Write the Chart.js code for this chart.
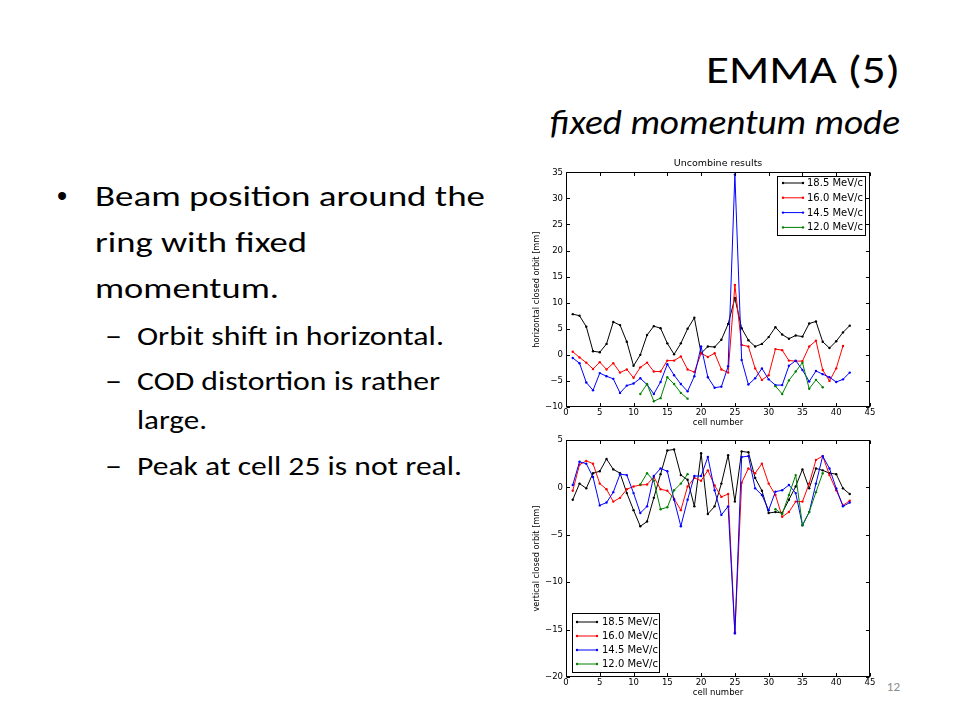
<!DOCTYPE html>
<html>
<head>
<meta charset="utf-8">
<script src="https://cdn.jsdelivr.net/npm/chart.js@4.4.1/dist/chart.umd.min.js"></script>
<style>
  html, body { margin:0; padding:0; background:#fff; }
  #slide { position:relative; width:960px; height:720px; overflow:hidden; background:#fff; }
  svg.txt { position:absolute; left:0; top:0; }
  canvas { position:absolute; }
</style>
</head>
<body>
<div id="slide">
  <svg class="txt" width="960" height="720" xmlns="http://www.w3.org/2000/svg">
    <g font-family="Carlito, Lato, 'Open Sans', sans-serif" font-weight="300" fill="#000">
      <text x="900" y="83" font-size="38" text-anchor="end" textLength="194" lengthAdjust="spacingAndGlyphs">EMMA (5)</text>
      <text x="900" y="134" font-size="34" font-style="italic" text-anchor="end" textLength="350" lengthAdjust="spacingAndGlyphs">fixed momentum mode</text>

      <text x="57" y="206" font-size="29" font-weight="400" font-family="'Liberation Sans', Arial, sans-serif">•</text>
      <text x="95" y="206" font-size="29" textLength="390" lengthAdjust="spacingAndGlyphs">Beam position around the</text>
      <text x="95" y="252" font-size="29" textLength="212" lengthAdjust="spacingAndGlyphs">ring with fixed</text>
      <text x="95" y="298" font-size="29" textLength="184" lengthAdjust="spacingAndGlyphs">momentum.</text>

      <text x="105" y="345" font-size="27" textLength="17" lengthAdjust="spacingAndGlyphs">–</text>
      <text x="137" y="345" font-size="27" textLength="307" lengthAdjust="spacingAndGlyphs">Orbit shift in horizontal.</text>
      <text x="105" y="390" font-size="27" textLength="17" lengthAdjust="spacingAndGlyphs">–</text>
      <text x="137" y="390" font-size="27" textLength="303" lengthAdjust="spacingAndGlyphs">COD distortion is rather</text>
      <text x="137" y="429" font-size="27" textLength="70" lengthAdjust="spacingAndGlyphs">large.</text>
      <text x="105" y="475" font-size="27" textLength="17" lengthAdjust="spacingAndGlyphs">–</text>
      <text x="137" y="475" font-size="27" textLength="325" lengthAdjust="spacingAndGlyphs">Peak at cell 25 is not real.</text>

      <text x="900" y="691" font-size="13" fill="#8a8a8a" text-anchor="end">12</text>
    </g>
  </svg>
  <canvas id="top" width="350" height="272" style="left:530px; top:155px;"></canvas>
  <canvas id="bot" width="350" height="267" style="left:530px; top:430px;"></canvas>
</div>
<script>
// ---------- data ----------
const cells = [1,2,3,4,5,6,7,8,9,10,11,12,13,14,15,16,17,18,19,20,21,22,23,24,25,26,27,28,29,30,31,32,33,34,35,36,37,38,39,40,41,42];
const seriesNames = ['18.5 MeV/c', '16.0 MeV/c', '14.5 MeV/c', '12.0 MeV/c'];

const xTicks = [0,5,10,15,20,25,30,35,40,45];
const hTicks = [-10,-5,0,5,10,15,20,25,30,35];
const vTicks = [-20,-15,-10,-5,0,5];

// horizontal closed orbit [mm]
const h185 = [7.8,7.5,5.4,0.7,0.5,2.1,6.3,5.7,2.5,-2.1, 0.0,3.8,5.5,5.1,2.2,0.1,2.2,5.0,7.1,0.3, 1.6,1.5,2.9,5.9,10.9,5.1,2.8,1.6,2.1,3.4, 5.3,3.9,3.1,3.7,3.5,6.0,6.4,2.5,1.3,2.6,4.3,5.6];
const h160 = [0.6,-0.5,-1.5,-2.7,-1.4,-2.8,-1.6,-3.4,-2.8,-4.4, -2.4,-1.5,-3.2,-3.2,-1.1,-1.1,-0.3,-2.8,-3.3,0.3, -0.4,0.3,-2.8,-3.4,13.4,1.9,1.6,-2.6,-4.8,-3.9, 1.1,0.9,-1.1,-1.2,-1.2,1.6,2.7,-2.9,-5.0,-2.6,1.7,null];
const h145 = [-0.6,-1.6,-5.3,-6.8,-3.5,-4.1,-4.6,-7.3,-5.9,-5.5, -4.5,-5.7,-7.5,-5.2,-1.8,-3.9,-5.6,-7.0,-4.1,1.6, -4.3,-6.3,-6.1,-2.2,34.6,-1.0,-5.7,-4.5,-2.6,-4.7, -5.8,-5.8,-2.1,-1.1,-2.9,-5.1,-3.1,-3.7,-4.3,-5.2,-4.7,-3.4];
const h120 = [null,null,null,null,null,null,null,null,null,null, -7.5,-5.6,-8.9,-8.3,-4.3,-5.6,-7.3,-8.4,null,null, null,null,null,null,null,null,null,null,null,null, -6.0,-7.5,-4.9,-3.2,-1.5,-6.5,-4.8,-6.2,null,null,null,null];

// vertical closed orbit [mm]
const v185 = [-1.3,0.4,-0.1,1.5,1.7,3.0,1.9,1.5,-0.6,-2.4, -4.1,-3.6,-1.1,1.4,3.9,4.0,1.3,0.8,-2.0,3.6, -2.8,-2.0,0.4,3.4,-1.5,3.8,3.7,1.0,-0.35,-2.7, -2.6,-2.7,-1.3,0.1,1.9,-0.1,2.0,1.8,1.5,1.4,-0.1,-0.7];
const v160 = [-0.35,2.4,2.8,2.5,0.4,-0.2,-1.5,-1.1,-0.2,0.1, 0.25,0.3,1.1,-0.2,-0.35,-1.2,-2.4,0.1,1.0,0.7, 1.8,0.2,-1.0,-0.7,-15.3,0.5,2.0,1.5,2.5,0.4, -0.8,-3.1,-2.6,-1.5,-1.5,0.4,2.9,3.3,1.3,-0.3,-1.9,-1.4];
const v145 = [0.25,2.7,2.5,1.1,-1.9,-1.6,-0.5,1.4,1.3,-0.6, -2.7,-2.0,1.2,2.0,1.7,-1.3,-4.1,-1.3,1.2,1.2, 3.2,-0.3,-2.9,-2.0,-15.4,3.2,3.3,-0.1,-0.8,-2.4, -0.45,-0.3,0.25,-0.6,-4.0,-2.6,0.4,3.3,2.0,-0.1,-2.0,-1.6];
const v120 = [null,null,null,null,null,null,null,null,null,null, 0.3,1.5,0.7,-2.3,-2.1,-0.3,0.4,1.4,null,null, null,null,null,null,null,null,null,null,null,null, -2.3,-2.8,-0.8,1.3,-4.0,-2.6,-0.5,1.5,null,null,null,null];

const colors = ['#000000', '#ff0000', '#0000ff', '#008000'];

// ---------- helpers ----------
const FONT = "'DejaVu Sans', Verdana, sans-serif";
const minus = v => String(v).replace('-', '\u2212');

function makeDatasets(arrs) {
  return arrs.map((arr, i) => ({
    label: seriesNames[i],
    data: cells.map((c, k) => ({ x: c, y: arr[k] })),
    borderColor: colors[i],
    backgroundColor: colors[i],
    borderWidth: 1,
    pointRadius: 1.2,
    pointHoverRadius: 1.2,
    pointBorderWidth: 0,
    pointStyle: 'circle',
    tension: 0,
    spanGaps: false,
    order: 3 - i
  }));
}

const framePlugin = {
  id: 'mplFrame',
  afterDatasetsDraw(chart) {
    const { ctx, chartArea: ca, scales } = chart;
    ctx.save();
    ctx.strokeStyle = '#000';
    ctx.lineWidth = 1;
    const L = Math.round(ca.left) + 0.5, R = Math.round(ca.right) - 0.5;
    const T = Math.round(ca.top) + 0.5, B = Math.round(ca.bottom) - 0.5;
    ctx.strokeRect(L, T, R - L, B - T);
    ctx.beginPath();
    scales.x.ticks.forEach(t => {
      const p = Math.round(scales.x.getPixelForValue(t.value)) + 0.5;
      ctx.moveTo(p, B); ctx.lineTo(p, B - 3.5);
      ctx.moveTo(p, T); ctx.lineTo(p, T + 3.5);
    });
    scales.y.ticks.forEach(t => {
      const p = Math.round(scales.y.getPixelForValue(t.value)) + 0.5;
      ctx.moveTo(L, p); ctx.lineTo(L + 3.5, p);
      ctx.moveTo(R, p); ctx.lineTo(R - 3.5, p);
    });
    ctx.stroke();
    ctx.restore();
  }
};

const legendPlugin = {
  id: 'boxLegend',
  afterDatasetsDraw(chart, args, opts) {
    if (!opts || !opts.corner) return;
    const { ctx, chartArea: ca } = chart;
    const w = opts.width, h = opts.height;
    const x0 = Math.round(opts.corner === 'ur' ? ca.right - opts.dx - w : ca.left + opts.dx);
    const y0 = Math.round(opts.corner === 'ur' ? ca.top + opts.dy : ca.bottom - opts.dy - h);
    ctx.save();
    ctx.fillStyle = '#fff';
    ctx.fillRect(x0, y0, w, h);
    ctx.strokeStyle = '#000';
    ctx.lineWidth = 1;
    ctx.strokeRect(x0 + 0.5, y0 + 0.5, w, h);
    ctx.font = `10px ${FONT}`;
    ctx.textBaseline = 'middle';
    chart.data.datasets.forEach((ds, i) => {
      const y = y0 + opts.first + i * opts.step;
      ctx.strokeStyle = ds.borderColor;
      ctx.fillStyle = ds.borderColor;
      ctx.beginPath();
      ctx.moveTo(x0 + opts.lx0, y); ctx.lineTo(x0 + opts.lx1, y);
      ctx.stroke();
      [opts.lx0, opts.lx1].forEach(px => { ctx.beginPath(); ctx.arc(x0 + px, y, 1.2, 0, Math.PI * 2); ctx.fill(); });
      ctx.fillStyle = '#000';
      ctx.fillText(ds.label, x0 + opts.tx, y + 0.5);
    });
    ctx.restore();
  }
};

function axisX() {
  return {
    type: 'linear', min: 0, max: 45,
    afterBuildTicks: s => { s.ticks = xTicks.map(v => ({ value: v })); },
    ticks: { font: { family: FONT, size: 8.5, lineHeight: 1 }, color: '#000', padding: 2, maxRotation: 0, autoSkip: false, callback: minus },
    grid: { display: false, drawTicks: false },
    border: { display: false },
    title: { display: true, text: 'cell number', font: { family: FONT, size: 8.5, lineHeight: 1 }, color: '#000', padding: { top: 0, bottom: 0 } },
    afterFit: s => { s.height = 20; }
  };
}
function axisY(min, max, tickArr, label) {
  return {
    type: 'linear', min, max,
    afterBuildTicks: s => { s.ticks = tickArr.map(v => ({ value: v })); },
    ticks: { font: { family: FONT, size: 8.5 }, color: '#000', padding: 3, autoSkip: false, callback: minus },
    grid: { display: false, drawTicks: false },
    border: { display: false },
    title: { display: true, text: label, font: { family: FONT, size: 8.2 }, color: '#000', padding: { top: 2, bottom: 0 } },
    afterFit: s => { s.width = 36; }
  };
}

new Chart(document.getElementById('top'), {
  type: 'line',
  data: { datasets: makeDatasets([h185, h160, h145, h120]) },
  options: {
    responsive: false, animation: false, events: [],
    layout: { padding: { top: 0, right: 10, left: 0, bottom: 0 } },
    plugins: {
      legend: { display: false }, tooltip: { enabled: false },
      title: { display: true, fullSize: false, text: 'Uncombine results', color: '#000', font: { family: FONT, size: 9.5, weight: 'normal', lineHeight: 1.2 }, padding: { top: 3, bottom: 2.9 } },
      boxLegend: { corner: 'ur', dx: 5, dy: 3.5, width: 88, height: 59, first: 7, step: 14.8, lx0: 6, lx1: 26, tx: 30 }
    },
    scales: { x: axisX(), y: axisY(-10, 35, hTicks, 'horizontal closed orbit [mm]') }
  },
  plugins: [framePlugin, legendPlugin]
});

new Chart(document.getElementById('bot'), {
  type: 'line',
  data: { datasets: makeDatasets([v185, v160, v145, v120]) },
  options: {
    responsive: false, animation: false, events: [],
    layout: { padding: { top: 10, right: 10, left: 0, bottom: 0 } },
    plugins: {
      legend: { display: false }, tooltip: { enabled: false }, title: { display: false },
      boxLegend: { corner: 'll', dx: 5.5, dy: 5, width: 87, height: 59, first: 9, step: 14, lx0: 5, lx1: 25, tx: 30 }
    },
    scales: { x: axisX(), y: axisY(-20, 5, vTicks, 'vertical closed orbit [mm]') }
  },
  plugins: [framePlugin, legendPlugin]
});
</script>
</body>
</html>
